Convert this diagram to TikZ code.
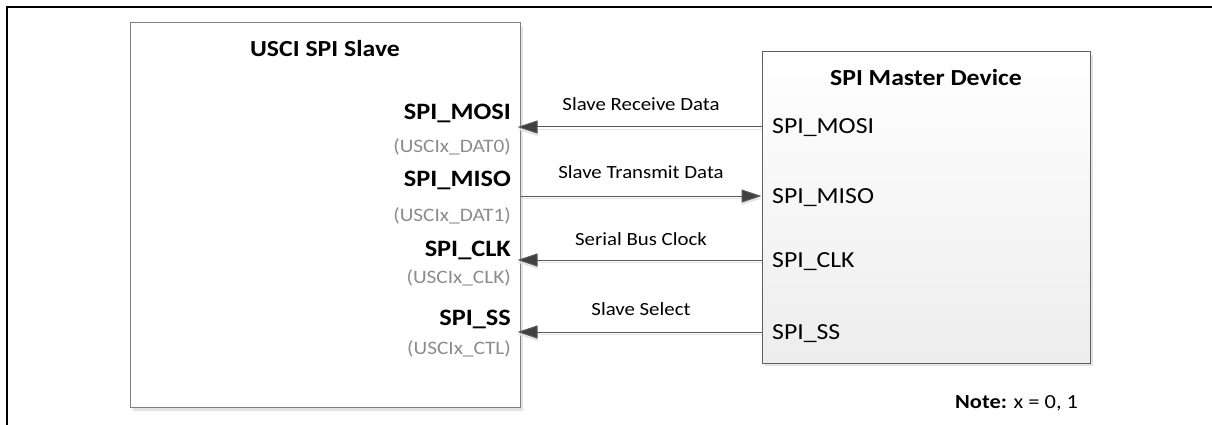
\documentclass[tikz,border=0pt]{standalone}
\usepackage{fontspec}
\setmainfont{Carlito}[FakeStretch=1.12]
\usetikzlibrary{arrows.meta,shadows}
\definecolor{linegray}{HTML}{595959}
\definecolor{headgray}{HTML}{404040}
\definecolor{boxgray}{HTML}{7F7F7F}
\definecolor{boxdark}{HTML}{606060}
\definecolor{pingray}{HTML}{8C8C8C}
\definecolor{shadowgray}{HTML}{E3E3E3}
\definecolor{fillbottom}{HTML}{EDEDED}
\begin{document}
\begin{tikzpicture}[x=1pt,y=-1pt,
  box/.style={draw, line width=1pt, inner sep=0pt,
    drop shadow={shadow xshift=3pt, shadow yshift=-3pt, fill=shadowgray, opacity=1}},
  titletext/.style={inner sep=0pt, anchor=base, font=\fontsize{23}{27}\selectfont\bfseries},
  pinbold/.style={inner sep=0pt, anchor=base east, font=\fontsize{23.5}{27}\selectfont\bfseries},
  pinalt/.style={inner sep=0pt, anchor=base east, text=pingray, font=\fontsize{19}{22}\selectfont},
  pinright/.style={inner sep=0pt, anchor=base west, font=\fontsize{23}{27}\selectfont},
  sigtext/.style={inner sep=0pt, anchor=base, font=\fontsize{18.6}{22}\selectfont},
  sig/.style={draw=linegray, line width=1pt,
    -{Triangle[length=20pt, width=13pt, fill=headgray]}},
  sigshadow/.style={draw=shadowgray, line width=1.5pt,
    -{Triangle[length=20pt, width=13pt, fill=shadowgray]}}
]
\useasboundingbox (0,0) rectangle (1212,425);
% outer frame
\draw[line width=2pt] (7,425) -- (7,7.3) -- (1212,7.3);
% boxes
\node[box, draw=boxgray, fill=white, minimum width=390pt, minimum height=385pt] (slave) at (325,215.4) {};
\node[box, draw=boxdark, top color=white, bottom color=fillbottom, minimum width=328pt, minimum height=311pt] (master) at (926,207.5) {};
% titles
\node[titletext] (slavetitle) at (325,57) {USCI SPI Slave};
\node[titletext] (mastertitle) at (926,86) {SPI Master Device};
% slave pins
\node[pinbold] (mosiL) at (511,120) {SPI\_MOSI};
\node[pinalt] (dat0) at (511,153) {(USCIx\_DAT0)};
\node[pinbold] (misoL) at (511,186) {SPI\_MISO};
\node[pinalt] (dat1) at (511,221) {(USCIx\_DAT1)};
\node[pinbold] (clkL) at (511,256) {SPI\_CLK};
\node[pinalt] (clkx) at (511,283) {(USCIx\_CLK)};
\node[pinbold] (ssL) at (511,325) {SPI\_SS};
\node[pinalt] (ctl) at (511,354) {(USCIx\_CTL)};
% master pins
\node[pinright] (mosiR) at (772,134) {SPI\_MOSI};
\node[pinright] (misoR) at (772,203) {SPI\_MISO};
\node[pinright] (clkR) at (772,267) {SPI\_CLK};
\node[pinright] (ssR) at (772,339) {SPI\_SS};
% connector shadows
\draw[sigshadow, shorten >=-3pt] (master.west |- 0,129.5) -- (slave.east |- 0,129.5);
\draw[sigshadow] (slave.east |- 0,198.5) -- (master.west |- 0,198.5);
\draw[sigshadow, shorten >=-3pt] (master.west |- 0,262.5) -- (slave.east |- 0,262.5);
\draw[sigshadow, shorten >=-3pt] (master.west |- 0,334.5) -- (slave.east |- 0,334.5);
% connectors
\draw[sig, shorten >=-3pt] (master.west |- 0,127) -- (slave.east |- 0,127);
\draw[sig] (slave.east |- 0,196) -- (master.west |- 0,196);
\draw[sig, shorten >=-3pt] (master.west |- 0,260) -- (slave.east |- 0,260);
\draw[sig, shorten >=-3pt] (master.west |- 0,332) -- (slave.east |- 0,332);
% signal labels
\node[sigtext] (rxlabel) at (641,111) {Slave Receive Data};
\node[sigtext] (txlabel) at (641,178) {Slave Transmit Data};
\node[sigtext] (clklabel) at (641,245) {Serial Bus Clock};
\node[sigtext] (sslabel) at (641,315) {Slave Select};
% note
\node[inner sep=0pt, anchor=base west, font=\fontsize{20}{24}\selectfont] (note) at (955,408) {\textbf{Note:} x = 0, 1};
\end{tikzpicture}
\end{document}
